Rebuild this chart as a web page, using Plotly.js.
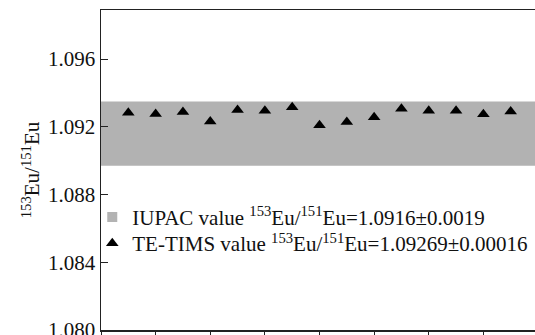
<!DOCTYPE html>
<html>
<head>
<meta charset="utf-8">
<script src="https://cdn.plot.ly/plotly-3.0.1.min.js"></script>
<style>
html, body { margin: 0; padding: 0; overflow: hidden; background: #fff; }
#chart { width: 540px; height: 380px; }
</style>
</head>
<body>
<div id="chart"></div>
<script>
// Data
const runIndex = [1, 2, 3, 4, 5, 6, 7, 8, 9, 10, 11, 12, 13, 14, 15];
const ratioValues = [1.09283, 1.09276, 1.09287, 1.09232, 1.09300, 1.09295, 1.09315,
                     1.09210, 1.09228, 1.09256, 1.09307, 1.09295, 1.09295, 1.09275, 1.09291];
const iupacValue = 1.0916;
const iupacUncertainty = 0.0019;
const yTickValues = [1.080, 1.084, 1.088, 1.092, 1.096];
const yTickLabels = ['1.080', '1.084', '1.088', '1.092', '1.096'];
const xTickValues = [0, 2, 4, 6, 8, 10, 12, 14, 16];
const iupacLabel = 'IUPAC value <sup>153</sup>Eu/<sup>151</sup>Eu=1.0916±0.0019';
const timsLabel = 'TE-TIMS value <sup>153</sup>Eu/<sup>151</sup>Eu=1.09269±0.00016';
const yTitle = '<sup>153</sup>Eu/<sup>151</sup>Eu';

const serif = 'Times New Roman';

const traces = [
  {
    type: 'scatter', mode: 'markers', x: [null], y: [null],
    name: iupacLabel, legend: 'legend',
    marker: { symbol: 'square', size: 10, color: '#b3b3b3' },
    hoverinfo: 'skip'
  },
  {
    type: 'scatter', mode: 'markers', x: runIndex, y: ratioValues,
    name: timsLabel, legend: 'legend2',
    marker: { symbol: 'triangle-up', size: 11, color: '#000' }
  }
];

const legendFont = { family: serif, size: 21, color: '#111' };

const layout = {
  width: 540, height: 380,
  margin: { l: 101, r: 2, t: 10, b: 49.5 },
  paper_bgcolor: '#fff', plot_bgcolor: '#fff',
  font: { family: serif, size: 21, color: '#111' },
  showlegend: true,
  legend: {
    x: -0.02, xanchor: 'left', y: 0.352, yanchor: 'middle',
    bgcolor: 'rgba(0,0,0,0)', font: legendFont, borderwidth: 0
  },
  legend2: {
    x: -0.02, xanchor: 'left', y: 0.27, yanchor: 'middle',
    bgcolor: 'rgba(0,0,0,0)', font: legendFont, borderwidth: 0
  },
  shapes: [{
    type: 'rect', xref: 'paper', yref: 'y', layer: 'below',
    x0: 0, x1: 1,
    y0: iupacValue - iupacUncertainty, y1: iupacValue + iupacUncertainty,
    fillcolor: '#b2b2b2', line: { width: 0 }
  }],
  xaxis: {
    range: [0, 16], tickvals: xTickValues, ticks: 'outside', ticklen: 10,
    tickcolor: '#222', tickwidth: 1,
    showline: true, linecolor: '#222', linewidth: 1.5, mirror: true,
    showgrid: false, zeroline: false, showticklabels: false
  },
  yaxis: {
    range: [1.080, 1.0989], tickvals: yTickValues, ticktext: yTickLabels,
    ticks: 'inside', ticklen: 7, tickcolor: '#222', tickwidth: 1,
    showline: true, linecolor: '#222', linewidth: 1.5, mirror: true,
    showgrid: false, zeroline: false,
    tickfont: { family: serif, size: 21, color: '#111' },
    title: { text: yTitle, font: { family: serif, size: 21, color: '#111' }, standoff: 2 }
  }
};

Plotly.newPlot('chart', traces, layout, { displayModeBar: false, staticPlot: true });
</script>
</body>
</html>
